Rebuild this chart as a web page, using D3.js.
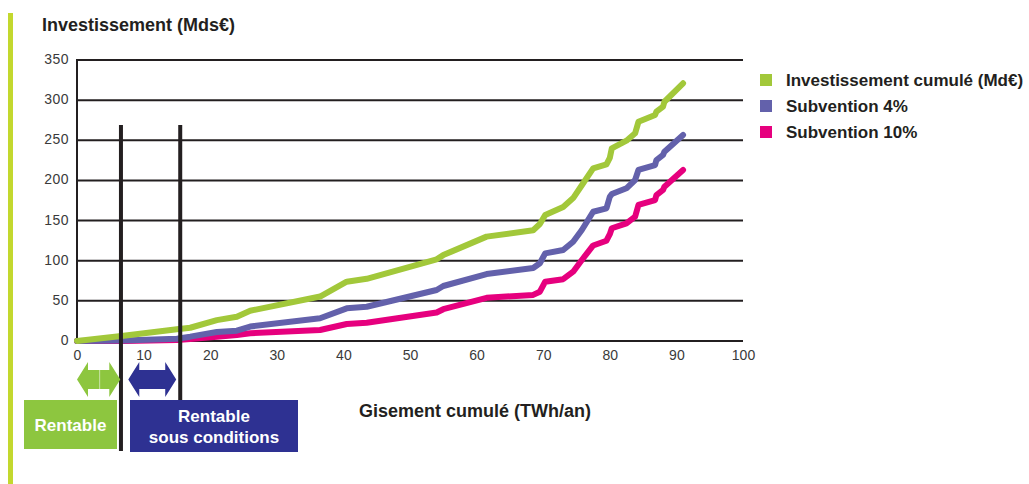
<!DOCTYPE html>
<html>
<head>
<meta charset="utf-8">
<script src="https://cdn.jsdelivr.net/npm/d3@7"></script>
<style>
  body { margin: 0; background: #fff; }
  svg { font-family: "Liberation Sans", Arial, Helvetica, sans-serif; }
</style>
</head>
<body>
<div id="chart"></div>
<script>
// données
var gisement = [0, 7, 15, 17, 21, 24, 26, 36.5, 40.5, 43.5, 54, 55, 61.5, 68.5, 69.5, 70.3, 73, 74.5, 75.8, 77.5, 79.5, 80, 80.3, 82.5, 83.8, 84.3, 86.8, 87, 88, 88.2, 91];
var investissement = [0, 6.6, 14.6, 16.5, 26, 30.3, 37.7, 55.4, 73.9, 77.5, 101.8, 107, 130, 138, 145.7, 157, 167, 178, 194, 215, 220, 228, 240, 249.5, 258.7, 273, 281.5, 285.6, 292, 298, 321];
var subv4 = [0, 0.5, 2.9, 5.4, 11.2, 12.8, 18, 28.3, 40.7, 42.7, 63.5, 68.5, 83.4, 90.9, 96.8, 109.2, 113.3, 123.7, 138.2, 161, 165.3, 179.7, 183, 190.2, 200.5, 213, 219.2, 225.4, 231.7, 235.8, 256.6];
var subv10 = [0, 0, 1.2, 2.5, 5.4, 7.5, 9.6, 13.7, 21.2, 22.8, 35.5, 39.6, 53.8, 57.4, 61.4, 73.9, 77, 86.3, 100.9, 119, 124.9, 133, 140.4, 146.6, 154.8, 169.4, 175.6, 181.8, 188.1, 192.2, 213];

var seriesNames = ["Investissement cumulé (Md€)", "Subvention 4%", "Subvention 10%"];
var seriesColors = ["#a2c83a", "#6361ab", "#e6007e"];
var xTicks = [0, 10, 20, 30, 40, 50, 60, 70, 80, 90, 100];
var yTicks = [0, 50, 100, 150, 200, 250, 300, 350];
var seuils = [6.6, 15.5];          // lignes verticales
var zones = [[0, 6.5], [7.7, 14.9]]; // flèches
var zoneLabels = [["Rentable"], ["Rentable", "sous conditions"]];

var W = 1029, H = 484;
var svg = d3.select("#chart").append("svg").attr("width", W).attr("height", H);

var x = d3.scaleLinear().domain([0, 100]).range([77, 743]);
var y = d3.scaleLinear().domain([0, 350]).range([341, 60]);

// barre verticale à gauche
svg.append("rect").attr("x", 8).attr("y", 13).attr("width", 5).attr("height", H - 13).attr("fill", "#c3d82e");

// titre axe y
svg.append("text").attr("x", 42).attr("y", 31).attr("font-size", 18).attr("font-weight", "bold")
  .attr("fill", "#231f20").text("Investissement (Mds€)");

// grille
svg.append("g").selectAll("line").data(yTicks).enter().append("line")
  .attr("x1", x(0)).attr("x2", x(100))
  .attr("y1", d => y(d)).attr("y2", d => y(d))
  .attr("stroke", "#231f20").attr("stroke-width", 2);

svg.append("line").attr("x1", x(0)).attr("x2", x(0)).attr("y1", y(350) - 1).attr("y2", y(0) + 1)
  .attr("stroke", "#231f20").attr("stroke-width", 2);

// axes
var yAxis = svg.append("g").attr("transform", "translate(" + (x(0) - 8) + ",-1)")
  .call(d3.axisLeft(y).tickValues(yTicks).tickSize(0).tickPadding(0));
yAxis.select(".domain").remove();
yAxis.selectAll("text").attr("font-size", 14).attr("fill", "#3a3a3a").attr("letter-spacing", 0.5)
  .attr("font-family", "Liberation Sans, Arial, sans-serif");

var xAxis = svg.append("g").attr("transform", "translate(0," + (y(0) + 9) + ")")
  .call(d3.axisBottom(x).tickValues(xTicks).tickSize(0).tickPadding(0));
xAxis.select(".domain").remove();
xAxis.selectAll("text").attr("font-size", 14).attr("fill", "#3a3a3a")
  .attr("font-family", "Liberation Sans, Arial, sans-serif");

svg.append("text").attr("x", 475).attr("y", 417).attr("text-anchor", "middle")
  .attr("font-size", 18).attr("font-weight", "bold").attr("fill", "#231f20")
  .text("Gisement cumulé (TWh/an)");

// courbes
var valeurs = [investissement, subv4, subv10];
var line = d3.line().x(d => x(d[0])).y(d => y(d[1]));
// ordre de dessin : rose, violet, vert
[2, 1, 0].forEach(function (k) {
  var pts = gisement.map((g, i) => [g, valeurs[k][i]]);
  svg.append("path").datum(pts).attr("d", line)
    .attr("fill", "none").attr("stroke", seriesColors[k]).attr("stroke-width", 6)
    .attr("stroke-linejoin", "round").attr("stroke-linecap", "round");
});

// légende
var lg = svg.append("g").attr("transform", "translate(760,74)");
seriesNames.forEach(function (n, i) {
  lg.append("rect").attr("x", 0).attr("y", i * 26).attr("width", 12).attr("height", 12).attr("fill", seriesColors[i]);
  lg.append("text").attr("x", 26).attr("y", i * 26 + 12).attr("font-size", 17).attr("font-weight", "bold")
    .attr("fill", "#231f20").text(n);
});

// lignes verticales
svg.append("g").selectAll("line").data(seuils).enter().append("line")
  .attr("x1", d => x(d)).attr("x2", d => x(d))
  .attr("y1", y(269)).attr("y2", 451)
  .attr("stroke", "#231f20").attr("stroke-width", 4);

// flèches doubles
var arrowCols = ["#8dc63f", "#2e3192"];
function dblArrow(x0, x1, yc, hh, sh, hw) {
  return ["M", x0, yc, "L", x0 + hw, yc - hh, "L", x0 + hw, yc - sh, "L", x1 - hw, yc - sh, "L", x1 - hw, yc - hh,
    "L", x1, yc, "L", x1 - hw, yc + hh, "L", x1 - hw, yc + sh, "L", x0 + hw, yc + sh, "L", x0 + hw, yc + hh, "Z"].join(" ");
}
zones.forEach(function (z, i) {
  svg.append("path").attr("d", dblArrow(x(z[0]), x(z[1]), 379.5, 17.5, 9.5, 11)).attr("fill", arrowCols[i]);
});
svg.append("line").attr("x1", x(3.4)).attr("x2", x(3.4)).attr("y1", 370).attr("y2", 389)
  .attr("stroke", "#c9e3a6").attr("stroke-width", 1);

// boîtes
var boxes = [{ x: 24, w: 93, y: 400, h: 49 }, { x: 130, w: 168, y: 400, h: 52 }];
boxes.forEach(function (b, i) {
  svg.append("rect").attr("x", b.x).attr("y", b.y).attr("width", b.w).attr("height", b.h).attr("fill", arrowCols[i]);
  var lines = zoneLabels[i];
  lines.forEach(function (t, j) {
    var ty = lines.length === 1 ? b.y + b.h / 2 + 6 : b.y + 22 + j * 21;
    svg.append("text").attr("x", b.x + b.w / 2).attr("y", ty).attr("text-anchor", "middle")
      .attr("font-size", 17).attr("font-weight", "bold").attr("fill", "#fff").text(t);
  });
});
</script>
</body>
</html>
